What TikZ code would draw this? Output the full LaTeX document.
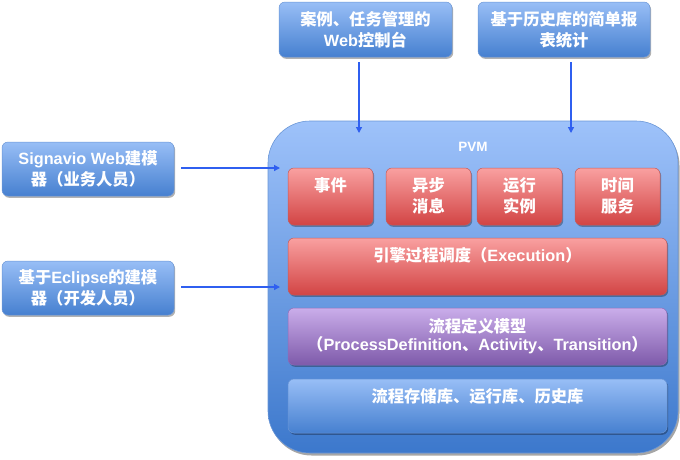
\documentclass[tikz,border=0pt]{standalone}
\usepackage{fontspec}
\setmainfont{Noto Sans CJK SC}
\newfontfamily\lat{Liberation Sans}
\usetikzlibrary{arrows.meta,shadows}
\definecolor{arrowblue}{HTML}{2F5FF0}
\definecolor{btop}{HTML}{98BEF6}
\definecolor{bbot}{HTML}{4680D0}
\definecolor{bdraw}{HTML}{6A96D6}
\definecolor{ctop}{HTML}{9EC2FA}
\definecolor{cbot}{HTML}{3C78CC}
\definecolor{rtop}{HTML}{F9A0A0}
\definecolor{rbot}{HTML}{D24444}
\definecolor{rdraw}{HTML}{C45A5A}
\definecolor{ptop}{HTML}{CAADEA}
\definecolor{pbot}{HTML}{7E5AAA}
\definecolor{pdraw}{HTML}{8E6CB8}
\begin{document}
\begin{tikzpicture}[x=1pt,y=-1pt,
  font=\fontsize{16.3}{21}\selectfont\bfseries,
  shbox/.style={rounded corners=6pt, inner sep=0pt, align=center, text=white,
    drop shadow={shadow xshift=1.2pt, shadow yshift=-1.8pt, fill=black, opacity=0.3}},
  bluebox/.style={shbox, draw=bdraw, line width=0.5pt, top color=btop, bottom color=bbot},
  redbox/.style={shbox, draw=rdraw, line width=0.5pt, top color=rtop, bottom color=rbot},
  purplebox/.style={shbox, draw=pdraw, line width=0.5pt, top color=ptop, bottom color=pbot},
  container/.style={rounded corners=42pt, inner sep=0pt, draw=bdraw, line width=0.6pt,
    top color=ctop, bottom color=cbot,
    drop shadow={shadow xshift=1.5pt, shadow yshift=-2.5pt, fill=black, opacity=0.35}},
  label/.style={text=white, align=center, inner sep=0pt},
  arr/.style={draw=arrowblue, line width=1.3pt, -{Triangle[width=6pt,length=6pt]}}
]
\useasboundingbox (0,0) rectangle (680,459);

% top boxes
\node[bluebox, minimum width=173pt, minimum height=55pt] (web) at (365.5,29.5)
  {案例、任务管理的\\{\lat Web}控制台};
\node[bluebox, minimum width=172pt, minimum height=55pt] (rep) at (564,29.5)
  {基于历史库的简单报\\表统计};

% left boxes
\node[bluebox, minimum width=172pt, minimum height=54pt] (sig) at (88,169)
  {{\lat Signavio Web}建模\\器（业务人员）};
\node[bluebox, minimum width=172pt, minimum height=54pt] (ecl) at (88,288)
  {基于{\lat Eclipse}的建模\\器（开发人员）};

% container
\node[container, minimum width=410pt, minimum height=332pt] (pvm) at (473,287) {};
\node[label, font=\fontsize{13.5}{15}\selectfont\bfseries\lat] (pvmt) at (473,147) {PVM};

% red boxes
\node[redbox, minimum width=85pt, minimum height=57pt] (evt) at (330.5,196.5) {};
\node[redbox, minimum width=85pt, minimum height=57pt] (msg) at (428.5,196.5) {};
\node[redbox, minimum width=85pt, minimum height=57pt] (ins) at (519.5,196.5) {};
\node[redbox, minimum width=85pt, minimum height=57pt] (tim) at (617.5,196.5) {};
\node[label] (evtt) at (330.5,185) {事件};
\node[label] (msgt) at (428.5,195.5) {异步\\消息};
\node[label] (inst) at (519.5,195.5) {运行\\实例};
\node[label] (timt) at (617.5,195.5) {时间\\服务};

% engine
\node[redbox, minimum width=379pt, minimum height=57pt] (eng) at (477.5,266.5) {};
\node[label] (engt) at (477.5,255) {引擎过程调度（{\lat Execution}）};

% process definition
\node[purplebox, minimum width=379pt, minimum height=57pt] (def) at (477.5,336.5) {};
\node[label] (deft) at (477.5,336) {流程定义模型\\[-2.5pt]（{\lat ProcessDefinition}、{\lat Activity}、{\lat Transition}）};

% storage
\node[bluebox, minimum width=379pt, minimum height=54pt] (sto) at (477.5,406) {};
\node[label] (stot) at (477.5,396) {流程存储库、运行库、历史库};

% arrows
\coordinate (a1) at (359,133);
\coordinate (a2) at (571,133);
\coordinate (a3) at (280,168);
\coordinate (a4) at (280,287);
\draw[arr] ([yshift=-5pt]web.south -| a1) -- (a1);
\draw[arr] ([yshift=-5pt]rep.south -| a2) -- (a2);
\draw[arr] ([xshift=7pt]sig.east |- a3) -- (a3);
\draw[arr] ([xshift=7pt]ecl.east |- a4) -- (a4);
\end{tikzpicture}
\end{document}
